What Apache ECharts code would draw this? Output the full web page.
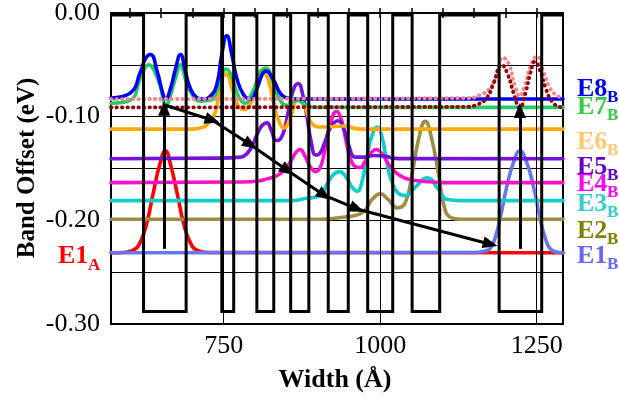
<!DOCTYPE html>
<html><head><meta charset="utf-8">
<script src="https://cdn.jsdelivr.net/npm/echarts@6/dist/echarts.min.js"></script>
<style>html,body{margin:0;padding:0;background:#fff}#c{width:619px;height:401px}</style>
</head><body><div id="c"></div>
<script>
// ---------- data ----------
const xMin = 570, xMax = 1292;
const xTickValues = [600,650,700,750,800,850,900,950,1000,1050,1100,1150,1200,1250];
const xLabelValues = [750,1000,1250];
const yLabelValues = [0,-0.1,-0.2,-0.3];
const xGridValues = [750,1000,1250];

// potential profile: wells [start,end] in Å, barrier/well levels in eV
const wells = [[622,690],[747,766],[803,830],[857,886],[917,949],[980,1020],[1051,1095],[1190,1258]];
const barrierTop = -0.002;
const wellBottom = -0.288;

const e1A = [[570,-0.2313],[590,-0.231],[605,-0.229],[616,-0.222],[627,-0.203],[637,-0.175],[648,-0.146],[657,-0.133],[665,-0.146],[676,-0.175],[686,-0.203],[697,-0.222],[708,-0.229],[725,-0.231],[1292,-0.2313]];
const e1B = [[570,-0.2313],[1150,-0.231],[1168,-0.2295],[1176,-0.227],[1184,-0.216],[1192,-0.197],[1202,-0.168],[1213,-0.144],[1223,-0.133],[1234,-0.144],[1245,-0.168],[1255,-0.197],[1263,-0.216],[1271,-0.227],[1281,-0.2305],[1292,-0.2313]];
const e2B = [[570,-0.199],[905,-0.199],[940,-0.197],[962,-0.195],[976,-0.190],[987,-0.180],[1000,-0.1745],[1013,-0.180],[1027,-0.188],[1040,-0.183],[1051,-0.155],[1062,-0.120],[1072,-0.1045],[1081,-0.118],[1093,-0.155],[1102,-0.186],[1112,-0.197],[1128,-0.199],[1292,-0.199]];
const e3B = [[570,-0.181],[857,-0.181],[880,-0.179],[904,-0.176],[915,-0.165],[925,-0.156],[935,-0.153],[945,-0.158],[955,-0.168],[963,-0.172],[972,-0.160],[980,-0.135],[987,-0.118],[995,-0.110],[1003,-0.120],[1010,-0.142],[1018,-0.162],[1029,-0.174],[1040,-0.176],[1056,-0.168],[1075,-0.159],[1093,-0.170],[1107,-0.180],[1128,-0.181],[1292,-0.181]];
const e4B = [[570,-0.1636],[780,-0.163],[805,-0.162],[819,-0.160],[835,-0.157],[848,-0.151],[858,-0.142],[866,-0.134],[872,-0.1316],[879,-0.137],[887,-0.147],[897,-0.153],[905,-0.148],[912,-0.130],[920,-0.108],[930,-0.095],[938,-0.103],[945,-0.122],[952,-0.140],[960,-0.148],[968,-0.149],[976,-0.143],[985,-0.135],[994,-0.1316],[1003,-0.136],[1016,-0.148],[1032,-0.157],[1050,-0.161],[1064,-0.162],[1100,-0.1636],[1292,-0.1636]];
const e5B = [[570,-0.1406],[735,-0.140],[777,-0.139],[788,-0.135],[797,-0.126],[805,-0.115],[812,-0.108],[819,-0.106],[826,-0.113],[834,-0.123],[841,-0.121],[848,-0.110],[855,-0.090],[862,-0.073],[869,-0.068],[876,-0.078],[883,-0.100],[890,-0.125],[897,-0.137],[904,-0.135],[912,-0.124],[921,-0.110],[933,-0.104],[942,-0.112],[950,-0.128],[960,-0.139],[975,-0.139],[990,-0.1375],[1005,-0.138],[1030,-0.1405],[1292,-0.1406]];
const e6B = [[570,-0.112],[700,-0.112],[713,-0.111],[729,-0.104],[737,-0.095],[742,-0.080],[747,-0.064],[754,-0.059],[763,-0.072],[771,-0.087],[782,-0.093],[795,-0.085],[803,-0.067],[811,-0.055],[822,-0.066],[830,-0.088],[838,-0.104],[846,-0.111],[857,-0.100],[868,-0.084],[879,-0.090],[889,-0.105],[904,-0.110],[941,-0.109],[968,-0.112],[1292,-0.112]];
const e7B = [[570,-0.087],[601,-0.084],[617,-0.063],[630,-0.050],[646,-0.066],[654,-0.085],[657,-0.091],[662,-0.085],[673,-0.063],[681,-0.050],[689,-0.064],[700,-0.079],[713,-0.085],[729,-0.084],[739,-0.076],[747,-0.060],[754,-0.054],[762,-0.060],[769,-0.073],[777,-0.084],[785,-0.087],[793,-0.080],[801,-0.069],[809,-0.057],[817,-0.053],[830,-0.069],[840,-0.084],[851,-0.089],[867,-0.084],[880,-0.088],[896,-0.091],[1292,-0.091]];
const e8B = [[570,-0.082],[601,-0.077],[617,-0.057],[625,-0.044],[633,-0.040],[644,-0.057],[652,-0.076],[657,-0.083],[665,-0.073],[673,-0.054],[681,-0.040],[689,-0.057],[697,-0.073],[708,-0.082],[716,-0.083],[729,-0.080],[739,-0.069],[747,-0.040],[755,-0.022],[763,-0.040],[771,-0.063],[782,-0.079],[793,-0.083],[803,-0.073],[811,-0.060],[817,-0.056],[830,-0.065],[840,-0.077],[851,-0.082],[870,-0.083],[1292,-0.083]];
const dotPink = [[570,-0.083],[1140,-0.082],[1160,-0.079],[1176,-0.072],[1187,-0.058],[1196,-0.043],[1206,-0.050],[1215,-0.070],[1223,-0.080],[1231,-0.070],[1241,-0.050],[1250,-0.042],[1260,-0.055],[1271,-0.072],[1281,-0.079],[1292,-0.082]];
const dotDarkRed = [[570,-0.091],[1135,-0.0905],[1156,-0.088],[1170,-0.082],[1181,-0.068],[1194,-0.050],[1203,-0.058],[1213,-0.077],[1223,-0.0915],[1232,-0.077],[1240,-0.058],[1247,-0.047],[1255,-0.055],[1264,-0.072],[1274,-0.085],[1284,-0.090],[1292,-0.091]];

const arrowChain = [[657,-0.089],[732,-0.1035],[793,-0.127],[852,-0.152],[911,-0.176],[963,-0.189],[1176,-0.223]];
const upArrows = [[[655,-0.2275],[655,-0.092]],[[1223,-0.2275],[1223,-0.094]]];

const levelNames = ['E8','E7','E6','E5','E4','E3','E2','E1'];
const levelSub = 'B';
const leftName = 'E1', leftSub = 'A';

// ---------- build ----------
const wave = [[xMin, barrierTop]];
wells.forEach(([a,b]) => { wave.push([a,barrierTop],[a,wellBottom],[b,wellBottom],[b,barrierTop]); });
wave.push([xMax, barrierTop]);

const FONT = '"Liberation Serif","Times New Roman",serif';
function curve(name, data, color, extra) {
  return Object.assign({
    name, type:'line', data, showSymbol:false, smooth:0.5,
    lineStyle:{color, width:3.6, join:'round', cap:'round'}, silent:true, animation:false, z:3
  }, extra || {});
}
const dotted = (name,data,color) => curve(name,data,color,{
  lineStyle:{color, width:3.8, type:[0.5,5], cap:'round'}, z:4
});

const chainSegs = [];
for (let i=0;i<arrowChain.length-1;i++) chainSegs.push([{coord:arrowChain[i]},{coord:arrowChain[i+1]}]);
upArrows.forEach(([p,q]) => chainSegs.push([{coord:p},{coord:q}]));

const labelColors = ['#0000ee','#33cc44','#ffc870','#6600cc','#ff00ff','#33cccc','#808000','#6666ff'];
const labelY = [89,107,142,167,184,204,231,256];
const graphics = [];
levelNames.forEach((t,i) => {
  graphics.push({type:'text', x:577, y:labelY[i], silent:true, z:10,
    style:{text:t, fill:labelColors[i], font:'bold 26px '+FONT, verticalAlign:'middle', align:'left'}});
  graphics.push({type:'text', x:607, y:labelY[i]+9, silent:true, z:10,
    style:{text:levelSub, fill:labelColors[i], font:'bold 17px '+FONT, verticalAlign:'middle', align:'left'}});
});
graphics.push({type:'text', x:58, y:256, silent:true,
  style:{text:leftName, fill:'#ff0000', font:'bold 26px '+FONT, verticalAlign:'middle', align:'left'}});
graphics.push({type:'text', x:88, y:266, silent:true,
  style:{text:leftSub, fill:'#ff0000', font:'bold 17px '+FONT, verticalAlign:'middle', align:'left'}});
graphics.push({type:'text', x:335, y:380, silent:true,
  style:{text:'Width (Å)', fill:'#000', font:'bold 26px '+FONT, verticalAlign:'middle', align:'center'}});
graphics.push({type:'text', x:28, y:168, rotation:Math.PI/2, silent:true,
  style:{text:'Band Offset (eV)', fill:'#000', font:'bold 25px '+FONT, verticalAlign:'middle', align:'center'}});

const chart = echarts.init(document.getElementById('c'), null, {renderer:'canvas'});
chart.setOption({
  animation:false,
  backgroundColor:'#fff',
  grid:{left:111, right:56, top:11, bottom:77, show:true, borderColor:'#000', borderWidth:2, backgroundColor:'transparent'},
  xAxis:[{
    type:'value', min:xMin, max:xMax, position:'bottom',
    axisLine:{lineStyle:{color:'#000', width:2}},
    axisTick:{show:true, inside:true, length:5, customValues:xTickValues, lineStyle:{color:'#000', width:1.5}},
    axisLabel:{customValues:xLabelValues, color:'#000', fontFamily:FONT, fontSize:26, margin:9, formatter: v => String(v)},
    splitLine:{show:false}
  },{
    type:'value', min:xMin, max:xMax, position:'top',
    axisLine:{lineStyle:{color:'#000', width:2}},
    axisTick:{show:true, inside:true, length:5, customValues:xTickValues, lineStyle:{color:'#000', width:1.5}},
    axisLabel:{show:false}, splitLine:{show:false}
  }],
  yAxis:[{
    type:'value', min:-0.30, max:0, interval:0.05,
    axisLine:{lineStyle:{color:'#000', width:2}},
    axisTick:{show:false},
    axisLabel:{color:'#000', fontFamily:FONT, fontSize:26, margin:11,
      formatter: v => yLabelValues.some(t => Math.abs(t - v) < 1e-6) ? (Math.abs(v) < 1e-9 ? '0.00' : v.toFixed(2)) : ''},
    splitLine:{show:true, lineStyle:{color:'#000', width:1}}
  }],
  graphic: graphics,
  series:[
    {type:'line', data:[], silent:true, z:1,
      markLine:{silent:true, symbol:['none','none'], label:{show:false}, animation:false,
        lineStyle:{color:'#000', width:1, type:'solid'},
        data: xGridValues.map(v => ({xAxis:v}))}},
    curve('E1A', e1A, '#ff0000'),
    curve('E1B', e1B, '#6677ee'),
    curve('E2B', e2B, '#a08c44'),
    curve('E3B', e3B, '#11cccc'),
    curve('E4B', e4B, '#ff11cc'),
    curve('E5B', e5B, '#7711dd'),
    curve('E6B', e6B, '#ffaa00'),
    curve('E7B', e7B, '#22cc66'),
    curve('E8B', e8B, '#0000ff'),
    dotted('pinkDots', dotPink, '#f08888'),
    dotted('darkRedDots', dotDarkRed, '#990000'),
    {type:'line', name:'profile', data:wave, showSymbol:false, smooth:false, silent:true, z:5,
      lineStyle:{color:'#000', width:3, join:'miter'}},
    {type:'line', data:[], silent:true, z:6,
      markLine:{silent:true, symbol:['none','triangle'], symbolSize:[12,15], label:{show:false}, animation:false,
        lineStyle:{color:'#000', width:3, type:'solid'},
        data: chainSegs}}
  ]
});
</script></body></html>
